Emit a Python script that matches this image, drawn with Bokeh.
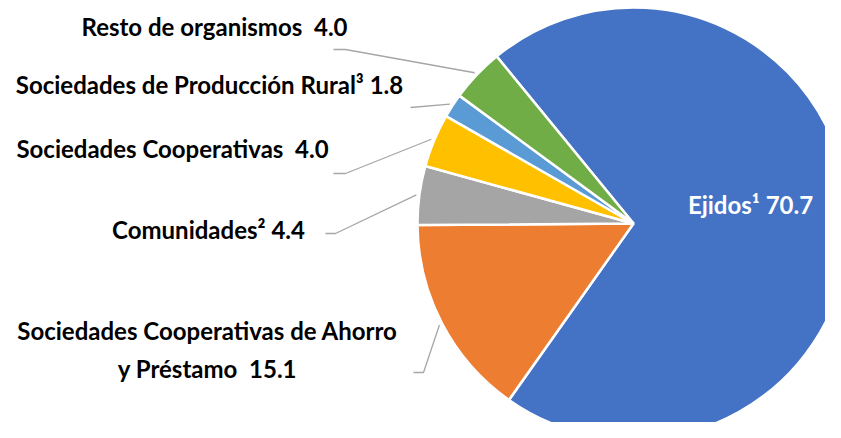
import numpy as np
from bokeh.plotting import figure
from bokeh.models import Range1d, ColumnDataSource
from bokeh.core.properties import value
from bokeh.embed import file_html
from bokeh.resources import INLINE

# ---- data ----
categories = ["Ejidos", "Sociedades Cooperativas de Ahorro\ny Préstamo", "Comunidades",
              "Sociedades Cooperativas", "Sociedades de Producción Rural", "Resto de organismos"]
footnotes = ["¹", "", "²", "", "³", ""]
shares = [70.7, 15.1, 4.4, 4.0, 1.8, 4.0]
colors = ["#4472C4", "#ED7D31", "#A5A5A5", "#FFC000", "#5B9BD5", "#70AD47"]

# ---- layout (screen px) ----
W, H = 825, 422
FONT = "Lato"
FS = "24px"
cx, cy_s, R = 633, 223, 216
start_deg = 129.3

def Y(sy):
    return H - sy

p = figure(width=W, height=H, output_backend="svg", toolbar_location=None,
           x_range=Range1d(0, W), y_range=Range1d(0, H), min_border=0)
p.axis.visible = False
p.grid.visible = False
p.outline_line_color = None
p.background_fill_color = "white"
p.border_fill_color = "white"

vals = np.array(shares, dtype=float)
frac = vals / vals.sum()
cum = np.concatenate([[0], np.cumsum(frac)])
a0 = np.radians(start_deg)
ends = a0 - cum[:-1] * 2 * np.pi
starts = a0 - cum[1:] * 2 * np.pi
mids = (starts + ends) / 2

src = ColumnDataSource(dict(x=[cx] * len(vals), y=[Y(cy_s)] * len(vals),
                            s=starts, e=ends, c=colors))
p.wedge(x="x", y="y", radius=R, start_angle="s", end_angle="e", fill_color="c",
        line_color="white", line_width=2.5, source=src)

labels = [f"{c}{f}\u00a0{v:.1f}" if f else f"{c}\u00a0\u00a0{v:.1f}"
          for c, f, v in zip(categories, footnotes, shares)]

# label centres (screen) and leader elbows
label_pos = {0: (750, 204), 1: (207, 349), 2: (208, 229), 3: (172, 148), 4: (209, 84), 5: (214, 26)}
elbows = {1: [(413, 372), (423, 372)], 2: [(325, 233), (335, 233)], 3: [(333, 173), (345, 173)],
          4: [(410, 107)], 5: [(333, 49), (345, 49)]}

for i, lab in enumerate(labels):
    lx, ly = label_pos[i]
    p.text(x=[lx], y=[Y(ly)], text=[lab], text_align="center", text_baseline="middle",
           text_font=value(FONT), text_font_style="bold", text_font_size=FS,
           text_color="white" if i == 0 else "black", text_line_height=1.3)
    if i in elbows:
        ex = cx + (R + 3) * np.cos(mids[i])
        ey = Y(cy_s) + (R + 3) * np.sin(mids[i])
        xs = [pt[0] for pt in elbows[i]] + [ex]
        ys = [Y(pt[1]) for pt in elbows[i]] + [ey]
        p.line(xs, ys, line_color="#A6A6A6", line_width=1.3)

open("out.html", "w").write(file_html(p, INLINE))
